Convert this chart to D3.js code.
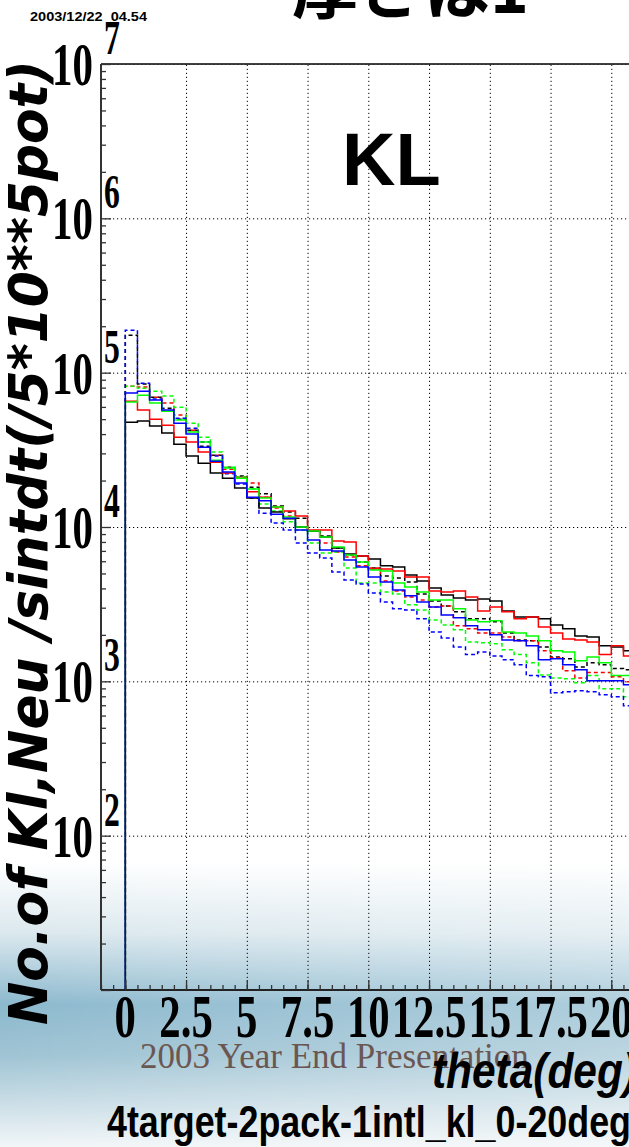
<!DOCTYPE html>
<html>
<head>
<meta charset="utf-8">
<script src="https://cdn.jsdelivr.net/npm/d3@7"></script>
<style>
body { margin: 0; overflow: hidden; background: #fff; }
svg { display: block; }
</style>
</head>
<body>
<div id="chart"></div>
<script>
// theta bins, 0.5 deg wide, starting at 0 deg
var binWidth = 0.5;

var blackSolid = [47800, 48600, 45100, 40600, 34400, 28800, 25900, 22400, 20700, 17900,
    15400, 13300, 12500, 11300, 10000, 9420, 8620, 7310, 6690, 6490,
    6210, 5600, 5510, 4890, 4470, 4030, 3630, 3470, 3370, 3420,
    3320, 2860, 2610, 2610, 2540, 2320, 2190, 1970, 1940, 1700, 1670, 1580];
var redSolid = [65400, 57200, 50000, 45700, 38200, 35500, 30600, 26300, 22400, 20700,
    16900, 15600, 13500, 12700, 11800, 9560, 9560, 8120, 8000, 6490,
    5350, 5350, 5190, 4750, 4750, 3850, 3790, 3850, 3520, 2860,
    3030, 2820, 2540, 2610, 2250, 2060, 1880, 1850, 1800, 1490, 1700, 1460];
var greenSolid = [64500, 71500, 63500, 56300, 49300, 41200, 35500, 27100, 24100, 20700,
    17600, 15400, 13500, 11600, 10000, 9420, 8620, 7420, 6590, 5940,
    5270, 5190, 4340, 4090, 3790, 3370, 3370, 2950, 2500, 2430,
    2470, 2090, 2060, 1970, 1830, 1580, 1550, 1360, 1440, 1320, 1090, 1090];
var blueSolid = [73700, 75900, 66400, 57200, 47100, 40000, 32900, 26700, 22700, 19300,
    15600, 14800, 12100, 11400, 9560, 8240, 7100, 6990, 6120, 5510,
    4750, 4400, 3910, 3580, 3270, 3030, 2690, 2580, 2290, 2160,
    2000, 1850, 1830, 1700, 1380, 1400, 1280, 1190, 1010, 1010, 1010, 949];
var blackDash = [174800, 84300, 69400, 58900, 50000, 42400, 33400, 29200, 24400, 21400,
    18100, 16400, 13700, 12500, 11400, 9420, 8740, 7310, 6590, 5940,
    5430, 4820, 4680, 4400, 3680, 3320, 3080, 2820, 2540, 2540,
    2430, 2060, 1850, 1830, 1670, 1440, 1400, 1240, 1320, 1280, 1210, 1190];
var redDash = [81800, 80600, 69400, 63500, 53100, 42400, 35500, 29200, 23700, 21100,
    19300, 15600, 13300, 11800, 10000, 9420, 7880, 6890, 6400, 5600,
    5430, 4470, 3850, 3520, 3370, 3030, 3080, 2290, 2190, 2060,
    2060, 1940, 1830, 1830, 1580, 1420, 1170, 1050, 1140, 1140, 1070, 993];
var greenDash = [81800, 79400, 75900, 70500, 59800, 47100, 38200, 30600, 24400, 21100,
    17600, 14100, 12700, 10800, 9560, 7880, 6790, 6890, 5430, 4340,
    4340, 3790, 3680, 3130, 2900, 2500, 2320, 2160, 1800, 1780,
    1750, 1600, 1490, 1320, 1100, 1050, 1040, 978, 1090, 894, 894, 794];
var blueDash = [188400, 85500, 67400, 56300, 50700, 43700, 35500, 28800, 22100, 19000,
    15400, 12300, 10600, 9560, 7880, 6790, 6300, 5110, 4540, 4270,
    3740, 3270, 2950, 2900, 2540, 2090, 1910, 1670, 1490, 1550,
    1460, 1380, 1280, 1090, 1070, 843, 855, 868, 855, 818, 794, 694];

var xTicks = [0, 2.5, 5, 7.5, 10, 12.5, 15, 17.5, 20, 22.5, 25, 27.5, 30];
var xTickLabels = ["0", "2.5", "5", "7.5", "10", "12.5", "15", "17.5", "20", "22.5", "25", "27.5", "30"];
var yTickExps = [2, 3, 4, 5, 6, 7];

// dashed drawn first, solid on top (blue solid last)
var series = [
    { values: blackDash, color: "#000000", dash: "4,3" },
    { values: redDash, color: "#ff0000", dash: "4,3" },
    { values: greenDash, color: "#00ff00", dash: "4,3" },
    { values: blueDash, color: "#0000ff", dash: "4,3" },
    { values: blackSolid, color: "#000000", dash: null },
    { values: redSolid, color: "#ff0000", dash: null },
    { values: greenSolid, color: "#00ff00", dash: null },
    { values: blueSolid, color: "#0000ff", dash: null }
];

var w = 629, h = 1147;
var plotLeft = 101, plotTop = 64, plotBottom = 990;

var x = d3.scaleLinear().domain([-1, 30]).range([plotLeft, plotLeft + 31 * 24.3]);
var y = d3.scaleLog().domain([10, 1e7]).range([plotBottom, plotTop]);

var svg = d3.select("#chart").append("svg")
    .attr("width", w)
    .attr("height", h);

// bottom gradient of the slide
var defs = svg.append("defs");
var grad = defs.append("linearGradient").attr("id", "bg")
    .attr("x1", 0).attr("y1", 0).attr("x2", 0).attr("y2", 1);
grad.append("stop").attr("offset", "0").attr("stop-color", "#ffffff");
grad.append("stop").attr("offset", "0.25").attr("stop-color", "#dbe8ee");
grad.append("stop").attr("offset", "0.5").attr("stop-color", "#8cb9ce");
grad.append("stop").attr("offset", "0.68").attr("stop-color", "#a0c4d4");
grad.append("stop").attr("offset", "1").attr("stop-color", "#f2f6f8");
var gradH = defs.append("linearGradient").attr("id", "bgh")
    .attr("x1", 0).attr("y1", 0).attr("x2", 1).attr("y2", 0);
gradH.append("stop").attr("offset", "0").attr("stop-color", "#ffffff").attr("stop-opacity", 0);
gradH.append("stop").attr("offset", "1").attr("stop-color", "#ffffff").attr("stop-opacity", 0.3);

svg.append("rect").attr("x", 0).attr("y", 862).attr("width", w).attr("height", h - 862)
    .attr("fill", "url(#bg)");
svg.append("rect").attr("x", 0).attr("y", 862).attr("width", w).attr("height", h - 862)
    .attr("fill", "url(#bgh)");

// grid lines
var vgrid = svg.append("g")
    .attr("transform", "translate(0," + plotBottom + ")")
    .call(d3.axisTop(x).tickValues(xTicks.slice(1)).tickSize(plotBottom - plotTop).tickFormat(""));
vgrid.select(".domain").remove();
vgrid.selectAll("line").attr("stroke", "#000").attr("stroke-dasharray", "1.2,2.8");

var hgrid = svg.append("g")
    .attr("transform", "translate(" + plotLeft + ",0)")
    .call(d3.axisRight(y).tickValues([1e2, 1e3, 1e4, 1e5, 1e6, 1e7]).tickSize(w).tickFormat(""));
hgrid.select(".domain").remove();
hgrid.selectAll("line").attr("stroke", "#000").attr("stroke-dasharray", "1.2,2.8");
hgrid.selectAll("line").filter(d => d == 1e7).attr("stroke", "#999");

// histograms
var line = d3.line()
    .x(d => x(d[0]))
    .y(d => y(d[1]))
    .curve(d3.curveStepAfter);

series.forEach(function (s) {
    var pts = [[0, 10]];
    s.values.forEach((v, i) => pts.push([i * binWidth, v]));
    pts.push([s.values.length * binWidth, s.values[s.values.length - 1]]);
    svg.append("path")
        .attr("d", line(pts))
        .attr("fill", "none")
        .attr("stroke", s.color)
        .attr("stroke-width", 1.5)
        .attr("stroke-dasharray", s.dash);
});

// frame
svg.append("line").attr("x1", plotLeft).attr("x2", w).attr("y1", plotTop).attr("y2", plotTop)
    .attr("stroke", "#000").attr("stroke-width", 1.5);
svg.append("line").attr("x1", plotLeft).attr("x2", w).attr("y1", plotBottom).attr("y2", plotBottom)
    .attr("stroke", "#222").attr("stroke-width", 2);
svg.append("line").attr("x1", plotLeft).attr("x2", plotLeft).attr("y1", plotTop).attr("y2", plotBottom)
    .attr("stroke", "#333").attr("stroke-width", 2);

// y ticks
var minorY = [];
for (var e = 1; e < 7; e++)
    for (var m = 2; m < 10; m++) minorY.push(m * Math.pow(10, e));
var yMinor = svg.append("g").attr("transform", "translate(" + plotLeft + ",0)")
    .call(d3.axisRight(y).tickValues(minorY).tickSize(5).tickFormat(""));
var yMajor = svg.append("g").attr("transform", "translate(" + plotLeft + ",0)")
    .call(d3.axisRight(y).tickValues([1e1, 1e2, 1e3, 1e4, 1e5, 1e6, 1e7]).tickSize(10).tickFormat(""));
[yMinor, yMajor].forEach(g => {
    g.select(".domain").remove();
    g.selectAll("line").attr("stroke", "#333").attr("stroke-width", 1.3);
});

// x ticks
var minorX = d3.range(-2, 61).map(i => i * 0.5);
var xMinor = svg.append("g").attr("transform", "translate(0," + plotBottom + ")")
    .call(d3.axisTop(x).tickValues(minorX).tickSize(5).tickFormat(""));
var xMajor = svg.append("g").attr("transform", "translate(0," + plotBottom + ")")
    .call(d3.axisTop(x).tickValues(xTicks).tickSize(10).tickFormat(""));
[xMinor, xMajor].forEach(g => {
    g.select(".domain").remove();
    g.selectAll("line").attr("stroke", "#333").attr("stroke-width", 1.3);
});

// y tick labels 10^n
yTickExps.forEach(function (n) {
    var ty = y(Math.pow(10, n));
    svg.append("text")
        .attr("transform", "translate(93," + (ty + 21) + ") scale(0.66,1)")
        .attr("text-anchor", "end")
        .style("font-family", "Liberation Serif")
        .style("font-weight", "bold")
        .style("font-size", "62px")
        .text("10");
    svg.append("text")
        .attr("transform", "translate(104," + (ty - 10) + ") scale(0.66,1)")
        .style("font-family", "Liberation Serif")
        .style("font-weight", "bold")
        .style("font-size", "48px")
        .text(n);
});

// x tick labels
xTicks.forEach(function (t, i) {
    svg.append("text")
        .attr("transform", "translate(" + x(t) + ",1037) scale(0.69,1)")
        .attr("text-anchor", "middle")
        .style("font-family", "Liberation Serif")
        .style("font-weight", "bold")
        .style("font-size", "62px")
        .text(xTickLabels[i]);
});

// texts
svg.append("text")
    .attr("x", 30).attr("y", 21)
    .attr("textLength", 117).attr("lengthAdjust", "spacingAndGlyphs")
    .style("white-space", "pre")
    .style("font-family", "Liberation Sans")
    .style("font-weight", "bold")
    .style("font-size", "13px")
    .text("2003/12/22  04.54");

svg.append("text")
    .attr("x", 292).attr("y", 13)
    .style("font-family", "Noto Sans CJK JP")
    .style("font-weight", "bold")
    .style("font-size", "66px")
    .text("厚さは1");

svg.append("text")
    .attr("x", 342).attr("y", 185)
    .style("font-family", "Liberation Sans")
    .style("font-weight", "bold")
    .style("font-size", "74px")
    .text("KL");

svg.append("text")
    .attr("transform", "translate(47,1025) rotate(-90)")
    .attr("textLength", 965).attr("lengthAdjust", "spacingAndGlyphs")
    .style("font-family", "DejaVu Sans")
    .style("font-weight", "bold")
    .style("font-style", "italic")
    .style("font-size", "54px")
    .text("No.of Kl,Neu /sintdt(/5*10**5pot)");

svg.append("text")
    .attr("x", 140).attr("y", 1068)
    .style("font-family", "Liberation Serif")
    .style("font-size", "35px")
    .attr("fill", "#6b5752")
    .text("2003 Year End Presentation");

svg.append("text")
    .attr("x", 432).attr("y", 1088)
    .attr("textLength", 205).attr("lengthAdjust", "spacingAndGlyphs")
    .style("font-family", "Liberation Sans")
    .style("font-weight", "bold")
    .style("font-style", "italic")
    .style("font-size", "50px")
    .text("theta(deg)");

svg.append("text")
    .attr("x", 107).attr("y", 1137)
    .attr("textLength", 524).attr("lengthAdjust", "spacingAndGlyphs")
    .style("font-family", "Liberation Sans")
    .style("font-weight", "bold")
    .style("font-size", "44px")
    .text("4target-2pack-1intl_kl_0-20deg");
</script>
</body>
</html>
